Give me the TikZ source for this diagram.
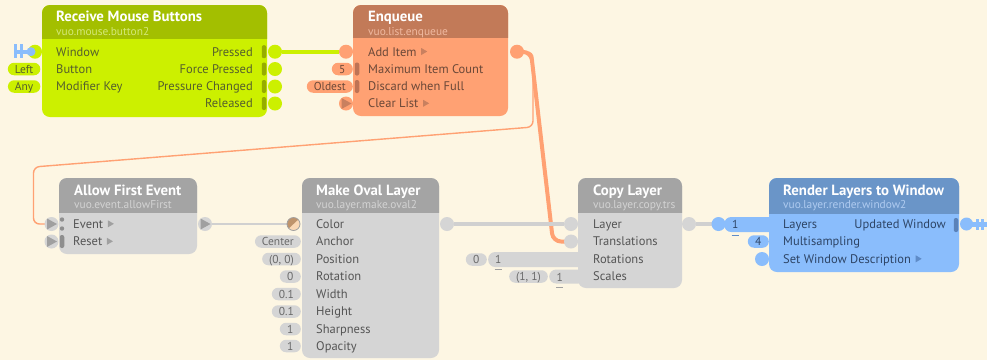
\documentclass[tikz,border=0pt]{standalone}
\usepackage{fontspec}
\setmainfont{PT Sans}
\usetikzlibrary{calc}
\pgfdeclarelayer{bg}
\pgfsetlayers{bg,main}
\definecolor{bgc}{HTML}{FDF6E3}
\definecolor{limeBody}{HTML}{CCF000}
\definecolor{limeHdr}{HTML}{A3BF00}
\definecolor{limeBar}{HTML}{96AC00}
\definecolor{limeText}{HTML}{555F2D}
\definecolor{limeSub}{HTML}{D4E87A}
\definecolor{enqBody}{HTML}{FFA173}
\definecolor{enqHdr}{HTML}{C27A58}
\definecolor{enqBar}{HTML}{BE7355}
\definecolor{enqText}{HTML}{6B4838}
\definecolor{enqSub}{HTML}{F0B9A0}
\definecolor{enqTri}{HTML}{C9805F}
\definecolor{grayBody}{HTML}{D5D5D5}
\definecolor{grayHdr}{HTML}{A4A4A4}
\definecolor{grayText}{HTML}{555555}
\definecolor{graySub}{HTML}{D3D3D3}
\definecolor{grayTri}{HTML}{A0A0A0}
\definecolor{grayBar}{HTML}{8E8E8E}
\definecolor{grayPill}{HTML}{6A6A6A}
\definecolor{grayCable}{HTML}{D0D0D0}
\definecolor{blueBody}{HTML}{8ABDFC}
\definecolor{blueHdr}{HTML}{6A95C8}
\definecolor{blueBar}{HTML}{5A82B9}
\definecolor{blueText}{HTML}{2E4566}
\definecolor{blueSub}{HTML}{AFCBF0}
\definecolor{blueTri}{HTML}{5F8CC8}
\definecolor{colDark}{HTML}{BF946C}
\definecolor{colLight}{HTML}{FAD8B5}

\newcommand\vuobox[8]{%
  \node[vbody, fill=#6, minimum width=#4pt, minimum height=#5pt] (#1) at (#2,#3) {};
  \begin{scope}
    \clip (#2,#3) rectangle ++(#4,#8);
    \fill[#7, rounded corners=8pt] (#2,#3) rectangle ++(#4,#5);
  \end{scope}}
\newcommand\vuotri[2]{%
  \fill[#1] ($(#2.base east)+(4.5,-8)$) -- ++(6,3.5) -- ++(-6,3.5) -- cycle;}
\newcommand\evtri[2]{%
  \fill[#1] ($(#2.center)+(-4.5,-5.5)$) -- ++(10,5.5) -- ++(-10,5.5) -- cycle;}

\begin{document}
\begin{tikzpicture}[x=1pt,y=-1pt,
  vbody/.style={rectangle, rounded corners=8pt, anchor=north west, inner sep=0pt, outer sep=0pt},
  vport/.style={circle, minimum size=14pt, inner sep=0pt, outer sep=0pt},
  vlbl/.style={anchor=base west, inner sep=0pt, font=\fontsize{12.5}{14}\selectfont},
  vrlbl/.style={anchor=base east, inner sep=0pt, font=\fontsize{12.5}{14}\selectfont},
  vttl/.style={anchor=base west, inner sep=0pt, text=white, font=\bfseries\fontsize{14.8}{16}\selectfont},
  vsub/.style={anchor=base west, inner sep=0pt, font=\fontsize{11.4}{13}\selectfont},
  vpill/.style={rectangle, rounded corners=6.25pt, anchor=east, minimum height=12.5pt, minimum width=21pt, inner xsep=7pt, inner ysep=0pt, text height=8pt, text depth=0pt, font=\fontsize{11.5}{13}\selectfont},
  vnum/.style={anchor=base west, inner sep=0pt, font=\fontsize{11.5}{13}\selectfont},
  vbar/.style={rectangle, rounded corners=2pt, minimum width=4.5pt, minimum height=13pt, inner sep=0pt},
  vdrawer/.style={rectangle, rounded corners=7pt, anchor=west, minimum height=15pt, inner sep=0pt},
  cable/.style={line width=4pt},
  thincable/.style={line width=1.4pt}]
\begin{pgfonlayer}{bg}
\fill[bgc] (0,0) rectangle (987,360);
\end{pgfonlayer}
\useasboundingbox (0,0) rectangle (987,360);

% ---------- Receive Mouse Buttons ----------
\fill[blueBody] (14,50) rectangle (31,53.5);
\fill[blueBody] (14,44) rectangle (17.3,57.5);
\fill[blueBody] (19.5,44) rectangle (22.8,57.5);
\node[vport, fill=limeBody] (rmb-i1) at (35,51.7) {};
\fill[blueBody] (31,51.7) circle (4.5);
\node[vpill, fill=limeBody, text=limeText] (rmb-c2) at (40.5,69) {Left};
\node[vpill, fill=limeBody, text=limeText] (rmb-c3) at (40.5,86.5) {Any};
\vuobox{rmb}{42}{5}{225}{112}{limeBody}{limeHdr}{33}
\node[vttl] (rmb-t) at (56,21.5) {Receive Mouse Buttons};
\node[vsub, text=limeSub] (rmb-s) at (56,35) {vuo.mouse.button2};
\node[vlbl, text=limeText] (rmb-l1) at (56,56) {Window};
\node[vlbl, text=limeText] (rmb-l2) at (56,73.3) {Button};
\node[vlbl, text=limeText] (rmb-l3) at (56,90.8) {Modifier Key};
\node[vrlbl, text=limeText] (rmb-r1) at (253,56) {Pressed};
\node[vrlbl, text=limeText] (rmb-r2) at (253,73.3) {Force Pressed};
\node[vrlbl, text=limeText] (rmb-r3) at (253,90.8) {Pressure Changed};
\node[vrlbl, text=limeText] (rmb-r4) at (253,107.8) {Released};
\foreach \i/\y in {1/51.7,2/69,3/86.5,4/103.5}{
  \node[vbar, fill=limeBar] (rmb-b\i) at (264,\y) {};
  \node[vport, fill=limeBody] (rmb-o\i) at (275,\y) {};}

% ---------- Enqueue ----------
\node[vport, fill=enqBody] (enq-i1) at (346,51.7) {};
\node[vpill, fill=enqBody, text=enqText] (enq-c2) at (353,69) {5};
\node[vpill, fill=enqBody, text=enqText] (enq-c3) at (353,86.5) {Oldest};
\node[vport, fill=enqBody] (enq-i4) at (346,103.5) {};
\evtri{enqTri}{enq-i4}
\vuobox{enq}{353}{5}{155}{111}{enqBody}{enqHdr}{32}
\node[vttl] (enq-t) at (368,21.5) {Enqueue};
\node[vsub, text=enqSub] (enq-s) at (368,35) {vuo.list.enqueue};
\node[vlbl, text=enqText] (enq-l1) at (368,56) {Add Item};
\node[vlbl, text=enqText] (enq-l2) at (368,73.3) {Maximum Item Count};
\node[vlbl, text=enqText] (enq-l3) at (368,90.8) {Discard when Full};
\node[vlbl, text=enqText] (enq-l4) at (368,107.8) {Clear List};
\vuotri{enqTri}{enq-l1}
\vuotri{enqTri}{enq-l4}
\node[vbar, fill=enqBar] (enq-b2) at (357,69) {};
\node[vbar, fill=enqBar] (enq-b3) at (357,86.5) {};
\node[vport, fill=enqBody] (enq-o1) at (517,51.7) {};

% ---------- Allow First Event ----------
\node[vport, fill=grayBody] (afe-i1) at (51.5,224) {};
\evtri{grayTri}{afe-i1}
\node[vport, fill=grayBody] (afe-i2) at (51.5,241.5) {};
\evtri{grayTri}{afe-i2}
\vuobox{afe}{59}{178}{138}{76}{grayBody}{grayHdr}{34}
\node[vttl] (afe-t) at (74,195.5) {Allow First Event};
\node[vsub, text=graySub] (afe-s) at (74,208) {vuo.event.allowFirst};
\node[vlbl, text=grayText] (afe-l1) at (73,228.3) {Event};
\node[vlbl, text=grayText] (afe-l2) at (73,245.8) {Reset};
\vuotri{grayTri}{afe-l1}
\vuotri{grayTri}{afe-l2}
\fill[grayBar] (62,219.5) circle (2.2);
\fill[grayBar] (62,228.5) circle (2.2);
\node[vbar, fill=grayBar] (afe-b2) at (62,241.5) {};
\node[vport, fill=grayBody] (afe-o1) at (205,224) {};
\evtri{grayTri}{afe-o1}

% ---------- Make Oval Layer ----------
\begin{scope}
  \clip (293.5,224) circle (6.5);
  \fill[colLight] (286,217) rectangle (301,231);
  \fill[colDark] (286,231) -- (286,217) -- (301,217) -- cycle;
\end{scope}
\node[vport, draw=grayTri, line width=0.8pt, minimum size=13pt] (mol-i1) at (293.5,224) {};
\node[vpill, fill=grayBody, text=grayPill] (mol-c2) at (301,241.5) {Center};
\node[vpill, fill=grayBody, text=grayPill] (mol-c3) at (301,259) {(0, 0)};
\node[vpill, fill=grayBody, text=grayPill] (mol-c4) at (301,276.5) {0};
\node[vpill, fill=grayBody, text=grayPill] (mol-c5) at (301,294) {0.1};
\node[vpill, fill=grayBody, text=grayPill] (mol-c6) at (301,311.5) {0.1};
\node[vpill, fill=grayBody, text=grayPill] (mol-c7) at (301,329) {1};
\node[vpill, fill=grayBody, text=grayPill] (mol-c8) at (301,346) {1};
\vuobox{mol}{302}{178}{137}{180}{grayBody}{grayHdr}{34}
\node[vttl] (mol-t) at (316,195.5) {Make Oval Layer};
\node[vsub, text=graySub] (mol-s) at (316,208) {vuo.layer.make.oval2};
\node[vlbl, text=grayText] (mol-l1) at (316,228.3) {Color};
\node[vlbl, text=grayText] (mol-l2) at (316,245.8) {Anchor};
\node[vlbl, text=grayText] (mol-l3) at (316,263.3) {Position};
\node[vlbl, text=grayText] (mol-l4) at (316,280.8) {Rotation};
\node[vlbl, text=grayText] (mol-l5) at (316,298.3) {Width};
\node[vlbl, text=grayText] (mol-l6) at (316,315.8) {Height};
\node[vlbl, text=grayText] (mol-l7) at (316,333.3) {Sharpness};
\node[vlbl, text=grayText] (mol-l8) at (316,350.3) {Opacity};
\node[vport, fill=grayBody] (mol-o1) at (447,224) {};

% ---------- Copy Layer ----------
\node[vdrawer, fill=grayBody, minimum width=97pt] (cl-d3) at (488,259.5) {};
\node[vdrawer, fill=grayBody, minimum width=36pt, minimum height=14pt] (cl-d4) at (549,276.5) {};
\node[vnum, text=grayPill] (cl-n3) at (495,263.8) {1};
\draw[grayTri, line width=1pt] (cl-n3.south west) ++(-0.5,5) -- ++(7,0);
\node[vnum, text=grayPill] (cl-n4) at (556.5,281) {1};
\draw[grayTri, line width=1pt] (cl-n4.south west) ++(-0.5,6) -- ++(7,0);
\node[vpill, fill=grayBody, text=grayPill] (cl-c3) at (487,259.5) {0};
\node[vpill, fill=grayBody, text=grayPill] (cl-c4) at (548,276.5) {(1, 1)};
\node[vport, fill=grayBody] (cl-i1) at (571,224) {};
\node[vport, fill=grayBody] (cl-i2) at (571,241.5) {};
\vuobox{cl}{578}{178}{104}{110}{grayBody}{grayHdr}{34}
\node[vttl] (cl-t) at (593,195.5) {Copy Layer};
\node[vsub, text=graySub] (cl-s) at (593,208) {vuo.layer.copy.trs};
\node[vlbl, text=grayText] (cl-l1) at (593,228.3) {Layer};
\node[vlbl, text=grayText] (cl-l2) at (593,245.8) {Translations};
\node[vlbl, text=grayText] (cl-l3) at (593,263.3) {Rotations};
\node[vlbl, text=grayText] (cl-l4) at (593,280.8) {Scales};
\node[vport, fill=grayBody] (cl-o1) at (689,224) {};

% ---------- Render Layers to Window ----------
\node[vport, fill=blueBody] (rlw-i1) at (718.5,224) {};
\node[vdrawer, fill=blueBody, minimum width=52pt] (rlw-d1) at (724,224.5) {};
\node[vnum, text=blueText] (rlw-n1) at (732,228.8) {1};
\draw[blueTri, line width=1pt] (rlw-n1.south west) ++(-0.5,6) -- ++(7,0);
\node[vpill, fill=blueBody, text=blueText] (rlw-c2) at (769,241.5) {4};
\node[vport, fill=blueBody] (rlw-i3) at (762,259) {};
\vuobox{rlw}{769}{178}{190}{94}{blueBody}{blueHdr}{35}
\node[vttl] (rlw-t) at (783,195.5) {Render Layers to Window};
\node[vsub, text=blueSub] (rlw-s) at (783,208) {vuo.layer.render.window2};
\node[vlbl, text=blueText] (rlw-l1) at (783,228.3) {Layers};
\node[vlbl, text=blueText] (rlw-l2) at (783,245.8) {Multisampling};
\node[vlbl, text=blueText] (rlw-l3) at (783,263.3) {Set Window Description};
\vuotri{blueTri}{rlw-l3}
\node[vrlbl, text=blueText] (rlw-r1) at (946,228.3) {Updated Window};
\node[vbar, fill=blueBar, minimum height=14pt] (rlw-b1) at (956,225) {};
\node[vport, fill=blueBody, minimum size=13pt] (rlw-o1) at (966.5,224) {};
\fill[blueBody] (970,222) rectangle (987,226.5);
\fill[blueBody] (976,219) rectangle (979,230);
\fill[blueBody] (981,219) rectangle (984,230);

% ---------- connectors ----------
\coordinate (ka) at (531,52);
\coordinate (kb) at (553,241.5);
\coordinate (kc) at (533,52);
\coordinate (kd) at (533,127);
\coordinate (ke) at (33.5,167);
\coordinate (kf) at (33.5,224);
\begin{pgfonlayer}{bg}
\draw[cable, limeBody] (rmb-o1) -- (enq-i1);
\draw[cable, enqBody, rounded corners=8pt] (enq-o1.center) -- (ka) -- (kb) -- (cl-i2.center);
\draw[thincable, enqBody, rounded corners=6pt] (enq-o1.center) -- (kc) -- (kd) -- (ke) -- (kf) -- (afe-i1.center);
\draw[thincable, grayCable] (afe-o1) -- (mol-i1);
\draw[cable, grayCable] (mol-o1) -- (cl-i1);
\draw[cable, grayCable] (cl-o1) -- (rlw-i1);
\end{pgfonlayer}
\end{tikzpicture}
\end{document}
